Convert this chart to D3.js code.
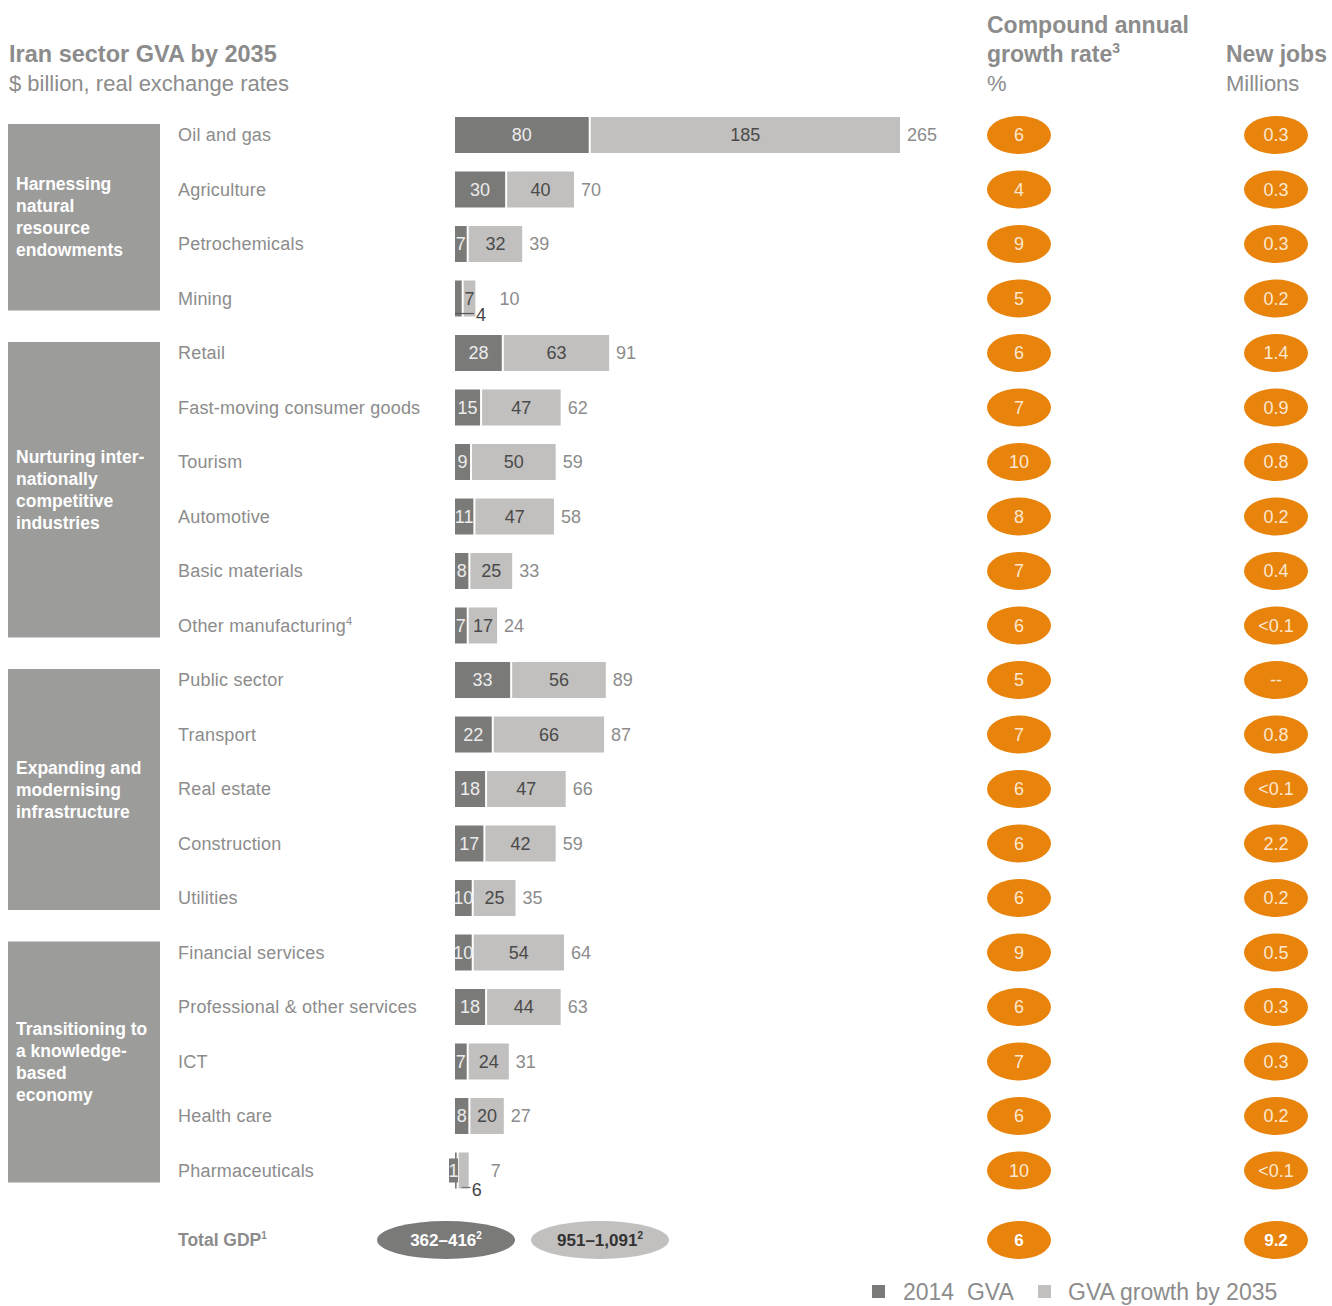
<!DOCTYPE html>
<html><head><meta charset="utf-8">
<script src="https://cdn.jsdelivr.net/npm/d3@7"></script>
<style>
html,body{margin:0;padding:0;background:#fff;}
svg{display:block;}
text{font-family:"Liberation Sans",Arial,Helvetica,sans-serif;}
</style></head>
<body>
<script>
const categories = ["Oil and gas","Agriculture","Petrochemicals","Mining","Retail","Fast-moving consumer goods","Tourism","Automotive","Basic materials","Other manufacturing","Public sector","Transport","Real estate","Construction","Utilities","Financial services","Professional & other services","ICT","Health care","Pharmaceuticals"];
const footnotes = {"Other manufacturing":"4"};
const gva2014 = [80,30,7,4,28,15,9,11,8,7,33,22,18,17,10,10,18,7,8,1];
const growth2035 = [185,40,32,7,63,47,50,47,25,17,56,66,47,42,25,54,44,24,20,6];
const totals = [265,70,39,10,91,62,59,58,33,24,89,87,66,59,35,64,63,31,27,7];
const cagr = ["6","4","9","5","6","7","10","8","7","6","5","7","6","6","6","9","6","7","6","10"];
const newJobs = ["0.3","0.3","0.3","0.2","1.4","0.9","0.8","0.2","0.4","<0.1","--","0.8","<0.1","2.2","0.2","0.5","0.3","0.3","0.2","<0.1"];
// label handling for very narrow segments
const labelMode = ["","","","leaderDark","","","","","","","","","","","","","","","","boxDark"];
const groupNames = [["Harnessing","natural","resource","endowments"],["Nurturing inter-","nationally","competitive","industries"],["Expanding and","modernising","infrastructure"],["Transitioning to","a knowledge-","based","economy"]];
const groupSizes = [4,6,5,5];
const totalGdp = {label:"Total GDP", note:"1", gva2014:"362–416", growth:"951–1,091", rangeNote:"2", cagr:"6", jobs:"9.2"};
const legendLabels = ["2014  GVA","GVA growth by 2035"];

const W=1332,H=1306;
const DARK="#7a7a79", LIGHT="#c1c0be", GROUP="#9c9c9b", ORANGE="#e8830c", GREY="#8c8c8c";

const svg=d3.select("body").append("svg").attr("width",W).attr("height",H);

const x=d3.scaleLinear().domain([0,265]).range([0,443]);
const x0=455, gap=2, barH=36;
const y=d3.scalePoint().domain(categories).range([135,1170.5]);

// Titles
svg.append("text").attr("x",9).attr("y",62).attr("font-size",23.5).attr("font-weight","bold").attr("fill",GREY).text("Iran sector GVA by 2035");
svg.append("text").attr("x",9).attr("y",91).attr("font-size",22).attr("fill",GREY).text("$ billion, real exchange rates");
svg.append("text").attr("x",987).attr("y",33).attr("font-size",23).attr("font-weight","bold").attr("fill",GREY).text("Compound annual");
const h2=svg.append("text").attr("x",987).attr("y",62).attr("font-size",23).attr("font-weight","bold").attr("fill",GREY).text("growth rate");
h2.append("tspan").attr("font-size",14).attr("dy",-9).text("3");
svg.append("text").attr("x",987).attr("y",91).attr("font-size",22).attr("fill",GREY).text("%");
svg.append("text").attr("x",1226).attr("y",62).attr("font-size",23).attr("font-weight","bold").attr("fill",GREY).text("New jobs");
svg.append("text").attr("x",1226).attr("y",91).attr("font-size",22).attr("fill",GREY).text("Millions");

// Group boxes
let idx=0;
groupSizes.forEach((n,g)=>{
  const first=categories[idx], last=categories[idx+n-1];
  const top=y(first)-11, bot=y(last)+12;
  svg.append("rect").attr("x",8).attr("y",top).attr("width",152).attr("height",bot-top).attr("fill",GROUP);
  const lines=groupNames[g], lh=22, cy=(top+bot)/2;
  const t=svg.append("text").attr("font-size",17.5).attr("font-weight","bold").attr("fill","#fff");
  lines.forEach((l,i)=>{
    t.append("tspan").attr("x",16).attr("y",cy-(lines.length-1)*lh/2+i*lh+6).text(l);
  });
  idx+=n;
});

// Rows
categories.forEach((c,i)=>{
  const cy=y(c);
  const lt=svg.append("text").attr("x",178).attr("y",cy+6).attr("font-size",18).attr("fill",GREY).attr("letter-spacing",0.2).text(c);
  if(footnotes[c]) lt.append("tspan").attr("font-size",11).attr("dy",-7).text(footnotes[c]);

  const wd=labelMode[i]==="boxDark" ? x(gva2014[i]) : Math.max(x(gva2014[i]),5);
  const wl=x(growth2035[i]);
  const lx=x0+wd+gap;
  const top=cy-barH/2;
  svg.append("rect").attr("x",x0).attr("y",top).attr("width",wd).attr("height",barH).attr("fill",DARK);
  svg.append("rect").attr("x",lx).attr("y",top).attr("width",wl).attr("height",barH).attr("fill",LIGHT);
  const end=lx+wl;
  let totalX=end+7;

  // dark label
  if(labelMode[i]==="leaderDark"){
    svg.append("line").attr("x1",x0).attr("x2",x0+19).attr("y1",top+barH-3).attr("y2",top+barH-3).attr("stroke","#555").attr("stroke-width",1.2);
    svg.append("text").attr("x",x0+21).attr("y",top+barH+4).attr("font-size",18).attr("fill","#444").text(gva2014[i]);
    totalX=end+24;
  } else if(labelMode[i]==="boxDark"){
    svg.append("rect").attr("x",x0-6).attr("y",cy-12).attr("width",9).attr("height",24).attr("fill",DARK);
    svg.append("text").attr("x",x0-1.5).attr("y",cy+6).attr("text-anchor","middle").attr("font-size",18).attr("fill","#eee").text(gva2014[i]);
  } else {
    svg.append("text").attr("x",x0+wd/2).attr("y",cy+6).attr("text-anchor","middle").attr("font-size",18).attr("fill","#ececec").text(gva2014[i]);
  }
  // light label
  if(labelMode[i]==="boxDark"){
    svg.append("line").attr("x1",lx+3).attr("x2",lx+12).attr("y1",top+barH-1).attr("y2",top+barH-1).attr("stroke","#777").attr("stroke-width",1.2);
    svg.append("text").attr("x",lx+13).attr("y",top+barH+7).attr("font-size",18).attr("fill","#444").text(growth2035[i]);
    totalX=end+22;
  } else {
    svg.append("text").attr("x",lx+wl/2).attr("y",cy+6).attr("text-anchor","middle").attr("font-size",18).attr("fill","#4a4a4a").text(growth2035[i]);
  }
  svg.append("text").attr("x",totalX).attr("y",cy+6).attr("font-size",18).attr("fill",GREY).text(totals[i]);

  // ellipses
  [[1019,cagr[i]],[1276,newJobs[i]]].forEach(([ex,v])=>{
    svg.append("ellipse").attr("cx",ex).attr("cy",cy).attr("rx",32).attr("ry",19).attr("fill",ORANGE);
    svg.append("text").attr("x",ex).attr("y",cy+6).attr("text-anchor","middle").attr("font-size",18).attr("fill","#fde8cf").text(v);
  });
});

// Total row
const ty=1240;
const tl=svg.append("text").attr("x",178).attr("y",ty+6).attr("font-size",17.5).attr("font-weight","bold").attr("fill",GREY).text(totalGdp.label);
tl.append("tspan").attr("font-size",10).attr("dy",-7).text(totalGdp.note);
[[446,DARK,"#fff",totalGdp.gva2014],[600,LIGHT,"#333",totalGdp.growth]].forEach(([ex,f,tc,v])=>{
  svg.append("ellipse").attr("cx",ex).attr("cy",ty).attr("rx",69).attr("ry",19).attr("fill",f);
  const t=svg.append("text").attr("x",ex).attr("y",ty+6).attr("text-anchor","middle").attr("font-size",17).attr("font-weight","bold").attr("fill",tc).text(v);
  t.append("tspan").attr("font-size",10).attr("dy",-7).text(totalGdp.rangeNote);
});
[[1019,totalGdp.cagr],[1276,totalGdp.jobs]].forEach(([ex,v])=>{
  svg.append("ellipse").attr("cx",ex).attr("cy",ty).attr("rx",32).attr("ry",19).attr("fill",ORANGE);
  svg.append("text").attr("x",ex).attr("y",ty+6).attr("text-anchor","middle").attr("font-size",17).attr("font-weight","bold").attr("fill","#fff").text(v);
});

// Legend
const legend=[[872,DARK,903,legendLabels[0]],[1038,LIGHT,1068,legendLabels[1]]];
legend.forEach(([sx,f,tx,l])=>{
  svg.append("rect").attr("x",sx).attr("y",1285).attr("width",13).attr("height",13).attr("fill",f);
  svg.append("text").attr("x",tx).attr("y",1300).attr("font-size",23).attr("fill",GREY).style("white-space","pre").text(l);
});
</script>
</body></html>
